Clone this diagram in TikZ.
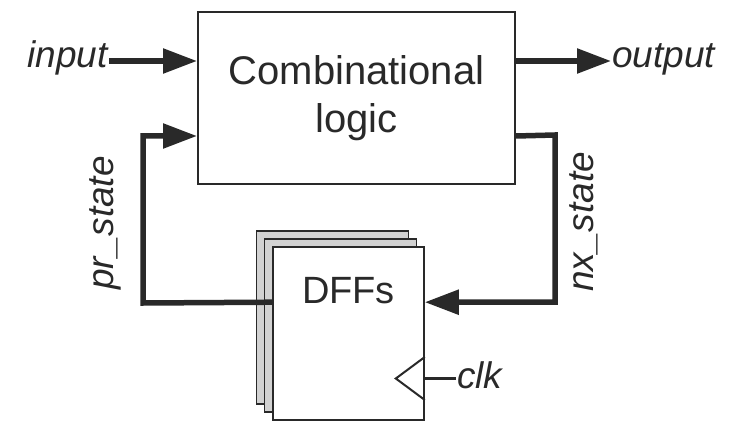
\documentclass[tikz,border=0pt]{standalone}
\usepackage{fontspec}
\setmainfont{Liberation Sans}
\usetikzlibrary{arrows.meta,calc}
\definecolor{ink}{gray}{0.16}
\begin{document}
\begin{tikzpicture}[x=1pt,y=-1pt, color=ink,
  block/.style={draw, line width=2pt, fill=white, inner sep=0pt,
    minimum width=317pt, minimum height=172pt},
  sheet/.style={draw, line width=1.6pt, fill=gray!35, inner sep=0pt,
    minimum width=152pt, minimum height=173pt},
  bus/.style={line width=5.5pt, line join=miter,
    -{Triangle[length=34pt,width=24pt]}},
  lbl/.style={font=\fontsize{37}{44}\selectfont\itshape, inner sep=1pt},
]
\useasboundingbox (0,0) rectangle (735,422);

% combinational block
\node[block, font=\fontsize{40}{48}\selectfont, align=center] (comb) at (356.5,98)
  {Combinational\\logic};

% stacked flip-flop sheets
\node[sheet] (dffB) at (332.5,317.5) {};
\node[sheet] (dffM) at (340.5,325.5) {};
\node[sheet, fill=white, minimum width=151pt] (dff) at (348.5,333.5) {};
\node[font=\fontsize{38}{44}\selectfont, inner sep=0pt] (dffTxt)
  at ($(dff.north)+(0,44)$) {DFFs};

% primary input and output
\node[lbl, anchor=base east] (in) at (109,68) {input};
\node[lbl, anchor=base west] (out) at (611,68) {output};
\coordinate (inPin) at ($(comb.north west)+(0,50)$);
\coordinate (outPin) at ($(comb.north east)+(0,50)$);
\draw[bus] (in.east |- inPin) -- (inPin);
\draw[bus] (outPin) -- (outPin -| out.west);

% present state feedback
\coordinate (prPin) at ($(comb.south west)+(0,-49)$);
\coordinate (dffOut) at ($(dff.north west)+(0,56)$);
\coordinate (prTurn) at (143,303);
\draw[bus] (dffOut) -- (prTurn) |- (prPin);
\node[lbl, rotate=90] (pr) at (105,223) {pr\_state};

% next state path
\coordinate (nxPin) at ($(comb.south east)+(0,-49)$);
\coordinate (dffIn) at ($(dff.north east)+(0,56)$);
\coordinate (nxTurn) at (555,135);
\draw[bus] (nxPin) -- (nxTurn) |- (dffIn);
\node[lbl, rotate=90] (nx) at (584,222) {nx\_state};

% clock input: open triangle on the right edge of the front sheet
\coordinate (clkPin) at ($(dff.east)+(0,45)$);
\draw[line width=2pt, line join=miter]
  ($(clkPin)+(0,-21.5)$) -- ($(clkPin)+(-29,0)$) -- ($(clkPin)+(0,21.5)$);
\node[lbl, anchor=base west] (clk) at (456,388) {clk};
\draw[line width=3.5pt] (clkPin) -- (clkPin -| clk.west);
\end{tikzpicture}
\end{document}
